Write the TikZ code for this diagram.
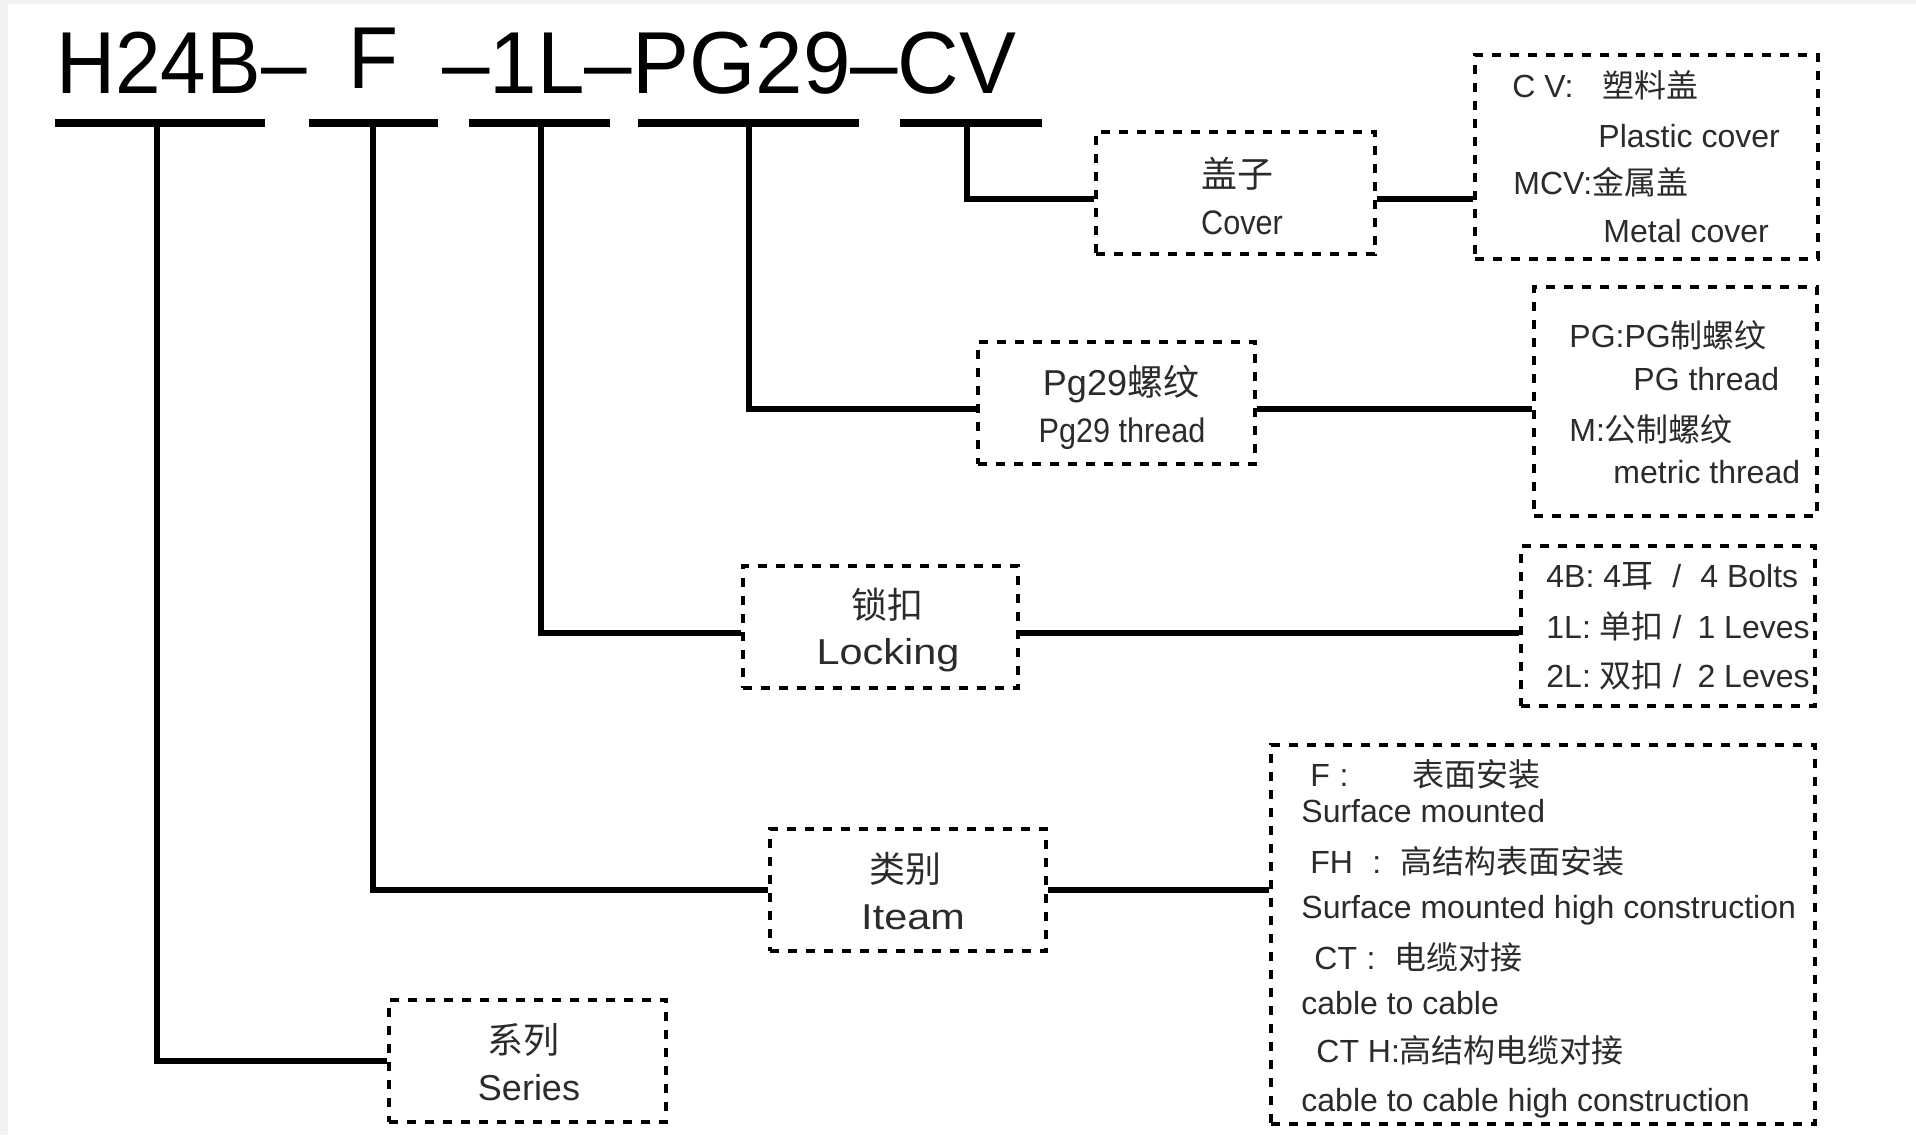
\documentclass[tikz,border=0pt]{standalone}
\usepackage{fontspec}
\setmainfont{Liberation Sans}
\newfontfamily\cjk{Noto Sans CJK SC}
\newfontfamily\narrowfont[FakeStretch=0.9]{Liberation Sans}
\newfontfamily\widefont[FakeStretch=1.15]{Liberation Sans}
\newfontfamily\codefont[FakeStretch=0.93]{Liberation Sans}
\newfontfamily\codewide[FakeStretch=0.97]{Liberation Sans}
\usetikzlibrary{fit}
\definecolor{rim}{HTML}{F3F2F0}
\definecolor{ink}{HTML}{2B2B2B}

\begin{document}
\begin{tikzpicture}[x=0.5pt, y=-0.5pt,
    box/.style={draw, dash pattern=on 4.5pt off 4.5pt, line width=2.4pt, inner sep=0pt},
    wire/.style={line width=3pt},
    bar/.style={line width=3.8pt},
    code/.style={anchor=base west, inner sep=0pt, font=\codefont\fontsize{44}{48}\selectfont},
    zh/.style={inner sep=0pt, text=ink, text height=13pt, text depth=0pt, font=\cjk\fontsize{18}{20}\selectfont},
    en/.style={inner sep=0pt, text=ink, text height=12.2pt, text depth=0pt},
    info/.style={anchor=west, inner sep=0pt, text=ink, text height=11.5pt, text depth=0pt,
                 font=\fontsize{16}{18}\selectfont}]
  % frame
  \fill[rim] (0,0) rectangle (1916,1135);
  \fill[white] (8,4) rectangle (1916,1135);
  \useasboundingbox (0,0) rectangle (1916,1135);

  % part number
  \node[code] (pA) at (56,93) {H24B–};
  \node[code] (pB) at (348,88) {F};
  \node[code, font=\codewide\fontsize{44}{48}\selectfont] (pC) at (442,93) {–1L–PG29–CV};
  \foreach \a/\b in {55/265, 309/438, 469/610, 638/859, 900/1042}
    \draw[bar] (\a,123) -- (\b,123);
  \coordinate (series) at (157,123);
  \coordinate (item) at (373,123);
  \coordinate (lock) at (541,123);
  \coordinate (thread) at (749,123);
  \coordinate (cap) at (967,123);

  % boxes
  \node[box, fit={(1096,132) (1375,254)}] (cover) {};
  \node[zh] at (1237,174) {盖子};
  \node[en, font=\narrowfont\fontsize{17}{20}\selectfont] at (1242,222) {Cover};

  \node[box, fit={(978,342) (1255,464)}] (pg) {};
  \node[zh, font=\fontsize{18}{20}\selectfont] at (1121,382) {Pg29{\cjk 螺纹}};
  \node[en, font=\narrowfont\fontsize{17}{20}\selectfont] at (1122,430) {Pg29 thread};

  \node[box, fit={(743,566) (1018,688)}] (locking) {};
  \node[zh] at (887,605) {锁扣};
  \node[en, font=\widefont\fontsize{18}{20}\selectfont] at (888,652) {Locking};

  \node[box, fit={(770,829) (1046,951)}] (iteam) {};
  \node[zh] at (905,869) {类别};
  \node[en, font=\widefont\fontsize{18}{20}\selectfont] at (913,917) {Iteam};

  \node[box, fit={(389,1000) (666,1122)}] (ser) {};
  \node[zh] at (523,1040) {系列};
  \node[en, font=\fontsize{18}{20}\selectfont] at (529,1088) {Series};

  % option boxes
  \node[box, fit={(1475,55) (1818,259)}] (cvinfo) {};
  \node[info] at (1512,86) {C V:\hspace{0.9em}{\cjk 塑料盖}};
  \node[info] at (1598,136) {Plastic cover};
  \node[info] at (1513,183) {MCV:{\cjk 金属盖}};
  \node[info] at (1603,231) {Metal cover};

  \node[box, fit={(1534,287) (1817,516)}] (pginfo) {};
  \node[info] at (1569,336) {PG:PG{\cjk 制螺纹}};
  \node[info] at (1633,379) {PG thread};
  \node[info] at (1569,430) {M:{\cjk 公制螺纹}};
  \node[info] at (1613,472) {metric thread};

  \node[box, fit={(1521,546) (1815,706)}] (lockinfo) {};
  \node[info] at (1546,576) {4B: 4{\cjk 耳}\hspace{0.6em}/\hspace{0.6em}4 Bolts};
  \node[info] at (1546,627) {1L: {\cjk 单扣} /\hspace{0.5em}1 Leves};
  \node[info] at (1546,676) {2L: {\cjk 双扣} /\hspace{0.5em}2 Leves};

  \node[box, fit={(1271,745) (1815,1124)}] (finfo) {};
  \node[info] at (1310,775) {F\hspace{0.3em}:\hspace{2em}{\cjk 表面安装}};
  \node[info] at (1301,811) {Surface mounted};
  \node[info] at (1310,862) {FH\hspace{0.6em}:\hspace{0.6em}{\cjk 高结构表面安装}};
  \node[info] at (1301,907) {Surface mounted high construction};
  \node[info] at (1314,958) {CT\hspace{0.3em}:\hspace{0.6em}{\cjk 电缆对接}};
  \node[info] at (1301,1003) {cable to cable};
  \node[info] at (1316,1051) {CT H:{\cjk 高结构电缆对接}};
  \node[info] at (1301,1100) {cable to cable high construction};

  % links
  \draw[wire] (cap) |- ([yshift=-3pt]cover.west);
  \draw[wire] (thread) |- ([yshift=-3pt]pg.west);
  \draw[wire] (lock) |- ([yshift=-3pt]locking.west);
  \draw[wire] (item) |- (iteam.west);
  \draw[wire] (series) |- (ser.west);
  \draw[wire] ([yshift=-3pt]cover.east) -- ([yshift=-3pt]cover.east -| cvinfo.west);
  \draw[wire] ([yshift=-3pt]pg.east) -- ([yshift=-3pt]pg.east -| pginfo.west);
  \draw[wire] ([yshift=-3pt]locking.east) -- ([yshift=-3pt]locking.east -| lockinfo.west);
  \draw[wire] (iteam.east) -- (iteam.east -| finfo.west);
\end{tikzpicture}
\end{document}
